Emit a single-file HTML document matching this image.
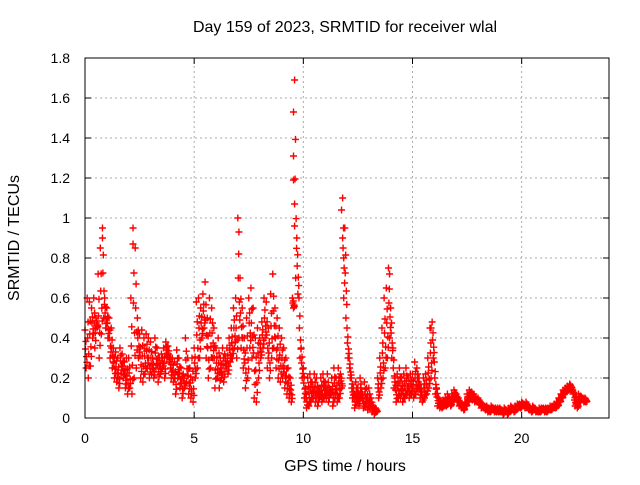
<!DOCTYPE html>
<html><head><meta charset="utf-8"><style>
body{margin:0;background:#fff;font-family:"Liberation Sans",sans-serif}
svg text{font-family:"Liberation Sans",sans-serif;font-size:14px;fill:#000}
svg text.big{font-size:16px}
</style></head><body>
<svg id="c" width="640" height="480">
<rect width="640" height="480" fill="#fff"/>
<text class="big" x="345" y="32" text-anchor="middle">Day 159 of 2023, SRMTID for receiver wlal</text>
<text class="big" x="345" y="471" text-anchor="middle">GPS time / hours</text>
<text class="big" transform="translate(19,238) rotate(-90)" text-anchor="middle">SRMTID / TECUs</text>
<g id="grid"></g><g id="marks"></g>
<rect x="85" y="58" width="524" height="360" fill="none" stroke="#000" stroke-width="1"/>
</svg>
<script>
const xTicks=[0,5,10,15,20];
const yTicks=[0,0.2,0.4,0.6,0.8,1,1.2,1.4,1.6,1.8];
const yLabels=["0","0.2","0.4","0.6","0.8","1","1.2","1.4","1.6","1.8"];
const tStart=0, tStep=0.1;
const seriesA=[.44,.6,.58,.55,.6,.5,.72,.85,.95,.6,
.55,.5,.45,.35,.33,.3,.35,.32,.28,.3,
.3,.6,.95,.85,.5,.42,.44,.4,.42,.4,
.38,.3,.4,.35,.3,.32,.35,.38,.36,.3,
.3,.28,.34,.3,.25,.22,.4,.3,.25,.3,
.35,.58,.6,.55,.62,.68,.5,.6,.55,.45,
.35,.4,.3,.35,.32,.35,.4,.45,.55,.6,
1.0,.7,.55,.4,.5,.6,.65,.55,.4,.45,
.4,.48,.6,.58,.45,.62,.72,.55,.5,.45,
.4,.35,.3,.25,.2,.6,1.69,.9,.6,.35,
.25,.15,.2,.22,.18,.22,.2,.15,.2,.22,
.18,.22,.15,.2,.25,.2,.25,.22,1.1,.95,
.45,.3,.2,.15,.18,.15,.2,.12,.18,.15,
.15,.1,.06,.05,.2,.3,.45,.6,.65,.75,
.55,.35,.2,.22,.25,.2,.22,.25,.2,.22,
.22,.28,.25,.2,.15,.2,.22,.3,.45,.48,
.28,.15,.1,.08,.09,.1,.12,.1,.12,.14,
.12,.1,.08,.06,.08,.12,.14,.13,.12,.1,
.1,.08,.07,.06,.06,.05,.06,.05,.05,.05,
.05,.04,.05,.04,.05,.06,.05,.06,.07,.07,
.08,.07,.08,.06,.05,.06,.05,.04,.05,.05,
.05,.05,.05,.06,.06,.07,.08,.1,.12,.14,
.15,.16,.17,.15,.12,.1,.12,.11,.1,.1];
const seriesB=[.25,.2,.26,.4,.35,.45,.3,.42,.5,.45,
.4,.3,.25,.2,.18,.15,.22,.2,.15,.12,
.15,.12,.2,.25,.3,.2,.18,.22,.25,.2,
.22,.2,.25,.18,.22,.25,.2,.3,.28,.2,
.18,.12,.2,.15,.1,.15,.18,.12,.1,.08,
.2,.25,.3,.4,.45,.3,.2,.25,.3,.15,
.2,.15,.2,.18,.25,.22,.28,.3,.35,.3,
.4,.35,.25,.15,.2,.35,.3,.1,.08,.2,
.3,.35,.4,.25,.2,.3,.35,.25,.2,.18,
.2,.15,.12,.1,.08,.55,.7,.62,.3,.2,
.1,.05,.06,.08,.1,.08,.06,.1,.08,.1,
.1,.08,.12,.06,.1,.08,.1,.15,.6,.5,
.3,.2,.1,.05,.08,.06,.1,.05,.06,.04,
.05,.03,.02,.03,.1,.15,.2,.25,.3,.4,
.3,.15,.08,.1,.1,.08,.1,.12,.1,.12,
.1,.12,.15,.1,.08,.1,.12,.15,.2,.3,
.12,.06,.05,.05,.06,.06,.07,.06,.08,.1,
.08,.06,.05,.04,.06,.08,.1,.09,.08,.08,
.07,.05,.05,.04,.03,.03,.04,.03,.03,.03,
.03,.02,.03,.02,.03,.04,.03,.04,.05,.05,
.06,.05,.05,.04,.03,.04,.03,.03,.03,.04,
.03,.03,.04,.04,.05,.05,.06,.08,.1,.12,
.13,.14,.15,.12,.06,.05,.08,.09,.08,.08];
const spikeT=[9.55,9.55,9.55,9.6,9.6,11.75,11.8,11.85,2.2,0.8,7.05,13.95,15.85];
const spikeV=[1.53,1.31,1.19,1.07,0.96,1.04,0.9,0.8,0.87,0.9,0.93,0.72,0.45];
const X0=85,X1=609,Y0=418,Y1=58,XMAX=24,YMAX=1.8;
const sx=t=>X0+(X1-X0)*t/XMAX, sy=v=>Y0-(Y0-Y1)*v/YMAX;
const NS="http://www.w3.org/2000/svg";
const grid=document.getElementById('grid'), marks=document.getElementById('marks');
function mk(tag,attrs,parent){const e=document.createElementNS(NS,tag);for(const k in attrs)e.setAttribute(k,attrs[k]);parent.appendChild(e);return e;}
xTicks.forEach(t=>{const x=sx(t);
 const g=mk('line',{x1:x,x2:x,y1:Y0,y2:Y1,stroke:'#aaa','stroke-dasharray':'2,3'},grid);
 
 
 mk('line',{x1:x,x2:x,y1:Y0,y2:Y0-6,stroke:'#000'},grid);
 mk('line',{x1:x,x2:x,y1:Y1,y2:Y1+6,stroke:'#000'},grid);
 const l=mk('text',{x:x,y:Y0+25,'text-anchor':'middle'},grid);l.textContent=t;
 
 });
yTicks.forEach((v,i)=>{const y=sy(v);
 const g=mk('line',{x1:X0,x2:X1,y1:y,y2:y,stroke:'#aaa','stroke-dasharray':'2,3'},grid);
 
 
 mk('line',{x1:X0,x2:X0+6,y1:y,y2:y,stroke:'#000'},grid);
 mk('line',{x1:X1,x2:X1-6,y1:y,y2:y,stroke:'#000'},grid);
 const l=mk('text',{x:X0-15,y:y+5,'text-anchor':'end'},grid);l.textContent=yLabels[i];
 
 });
let d='';
function cross(t,v){const x=sx(t),y=sy(v);d+=`M${x-3.5},${y}h7M${x},${y-3.5}v7`;}
seriesA.forEach((v,i)=>cross(tStart+i*tStep,v));
seriesB.forEach((v,i)=>cross(tStart+i*tStep+0.05,v));
seriesA.forEach((v,i)=>{const b=seriesB[i],t=tStart+i*tStep;
 cross(t+0.02,(v+b)/2);cross(t+0.07,v*0.3+b*0.7);cross(t+0.04,v*0.7+b*0.3);cross(t+0.09,v*0.15+b*0.85);});
spikeT.forEach((t,i)=>cross(t,spikeV[i]));
const p=mk('path',{d:d,stroke:'#f00','stroke-width':1.4,fill:'none'},marks);


</script>
</body></html>
